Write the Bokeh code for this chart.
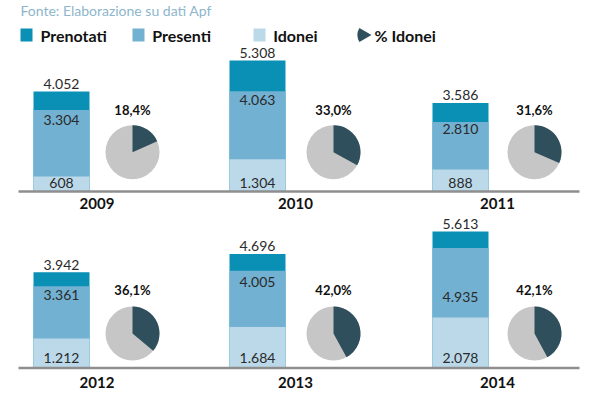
import math
from bokeh.plotting import figure
from bokeh.models import ColumnDataSource, Range1d
from bokeh.core.properties import value
from bokeh.embed import file_html
from bokeh.resources import INLINE

# ---------------- data ----------------
years = ["2009", "2010", "2011", "2012", "2013", "2014"]
prenotati = [4052, 5308, 3586, 3942, 4696, 5613]
presenti = [3304, 4063, 2810, 3361, 4005, 4935]
idonei = [608, 1304, 888, 1212, 1684, 2078]
pct_idonei = [18.4, 33.0, 31.6, 36.1, 42.0, 42.1]
series_names = ["Prenotati", "Presenti", "Idonei", "% Idonei"]
source_note = "Fonte: Elaborazione su dati Apf"

# ---------------- style / layout ----------------
W, H = 600, 397
C_PREN = "#0a8fb5"
C_PRES = "#72b1d2"
C_IDON = "#bcd9ea"
C_DARK = "#2f4f5c"
C_LIGHT = "#c6c6c6"
C_TEXT = "#2a2a2a"
C_BASE = "#8e8e8e"
C_NOTE = "#8db6cc"
FONT = value("Lato")

bar_x = [61, 257, 460]
pie_x = [132, 333, 534]
BAR_W = 56
PIE_R = 27
rows = [
    dict(base=191.0, k=0.0247, pie_y=151.7, pct_y=109.5, year_y=203.0, id_lift=8.3),
    dict(base=367.5, k=0.0243, pie_y=333.0, pct_y=289.0, year_y=382.0, id_lift=10.2),
]
pres_drop = [10.3, 9.3, 7.3, 9.0, 11.7, 48.7]

def fmt_int(v):
    return f"{v:,}".replace(",", ".")

def fmt_pct(v):
    return f"{v:.1f}".replace(".", ",") + "%"

# page coordinates: x = page x, y = -page y
p = figure(width=W, height=H, x_range=Range1d(0, W), y_range=Range1d(-H, 0),
           output_backend="svg", toolbar_location=None,
           x_axis_location=None, y_axis_location=None, min_border=0)
p.grid.visible = False
p.outline_line_color = None
p.background_fill_color = "white"
p.border_fill_color = "white"

for r, row in enumerate(rows):
    B, k = row["base"], row["k"]
    p.extra_y_ranges[f"r{r}"] = Range1d(start=(B - H) / k, end=B / k)

# title
p.text(x=[20], y=[-9.5], text=[source_note], text_font=FONT, text_font_size="14px",
       text_color=C_NOTE, text_baseline="middle", text_align="left")

# legend
leg_y = -34.5
sq_x = [26, 138, 259]
for cx, col in zip(sq_x, [C_PREN, C_PRES, C_IDON]):
    p.rect(x=[cx], y=[leg_y], width=12, height=13, fill_color=col, line_color=None)
p.wedge(x=[371], y=[leg_y], radius=14, radius_units="screen",
        start_angle=math.radians(150), end_angle=math.radians(210),
        fill_color=C_DARK, line_color=None)
p.text(x=[40, 151.7, 272.7, 374], y=[-35] * 4, text=series_names, text_font=FONT,
       text_font_size="16px", text_font_style="bold", text_color="#111111",
       text_baseline="middle", text_align="left")

for r, row in enumerate(rows):
    sl = slice(3 * r, 3 * r + 3)
    rng = f"r{r}"
    src = ColumnDataSource(dict(
        x=bar_x, px=pie_x,
        yx=[(a + b) / 2 for a, b in zip(bar_x, pie_x)],
        year=years[sl], pren=prenotati[sl], pres=presenti[sl], ido=idonei[sl],
        pren_l=[fmt_int(v) for v in prenotati[sl]],
        pres_l=[fmt_int(v) for v in presenti[sl]],
        ido_l=[fmt_int(v) for v in idonei[sl]],
        pct_l=[fmt_pct(v) for v in pct_idonei[sl]],
        zero=[0] * 3,
        pres_off=pres_drop[sl],
        pie_y=[-row["pie_y"]] * 3,
        pct_y=[-row["pct_y"]] * 3,
        year_y=[-row["year_y"]] * 3,
        a_start=[math.pi / 2] * 3,
        a_end=[math.pi / 2 - 2 * math.pi * v / 100 for v in pct_idonei[sl]],
    ))
    p.vbar(x="x", top="pren", bottom=0, width=BAR_W, source=src, y_range_name=rng,
           fill_color=C_PREN, line_color=None)
    p.vbar(x="x", top="pres", bottom=0, width=BAR_W, source=src, y_range_name=rng,
           fill_color=C_PRES, line_color=None)
    p.vbar(x="x", top="ido", bottom=0, width=BAR_W, source=src, y_range_name=rng,
           fill_color=C_IDON, line_color=None)
    p.segment(x0=[18], x1=[579], y0=[0], y1=[0], y_range_name=rng,
              line_color=C_BASE, line_width=2.5)
    p.text(x="x", y="pren", text="pren_l", source=src, y_range_name=rng,
           text_font=FONT, text_font_size="14px", text_color=C_TEXT,
           text_baseline="middle", text_align="center", y_offset=-7.5)
    p.text(x="x", y="pres", text="pres_l", source=src, y_range_name=rng,
           text_font=FONT, text_font_size="14px", text_color=C_TEXT,
           text_baseline="middle", text_align="center", y_offset="pres_off")
    p.text(x="x", y="zero", text="ido_l", source=src, y_range_name=rng,
           text_font=FONT, text_font_size="14px", text_color=C_TEXT,
           text_baseline="middle", text_align="center", y_offset=-row["id_lift"])
    p.scatter(x="px", y="pie_y", source=src, marker="circle", size=2 * PIE_R,
              fill_color=C_LIGHT, line_color=None)
    p.wedge(x="px", y="pie_y", radius=PIE_R, radius_units="screen", source=src,
            start_angle="a_end", end_angle="a_start", direction="anticlock",
            fill_color=C_DARK, line_color=None)
    p.text(x="px", y="pct_y", text="pct_l", source=src, text_font=FONT,
           text_font_size="13px", text_font_style="bold", text_color="#111111",
           text_baseline="middle", text_align="center")
    p.text(x="yx", y="year_y", text="year", source=src, text_font=FONT,
           text_font_size="15px", text_font_style="bold", text_color="#111111",
           text_baseline="middle", text_align="center")

open("out.html", "w").write(file_html(p, INLINE))
